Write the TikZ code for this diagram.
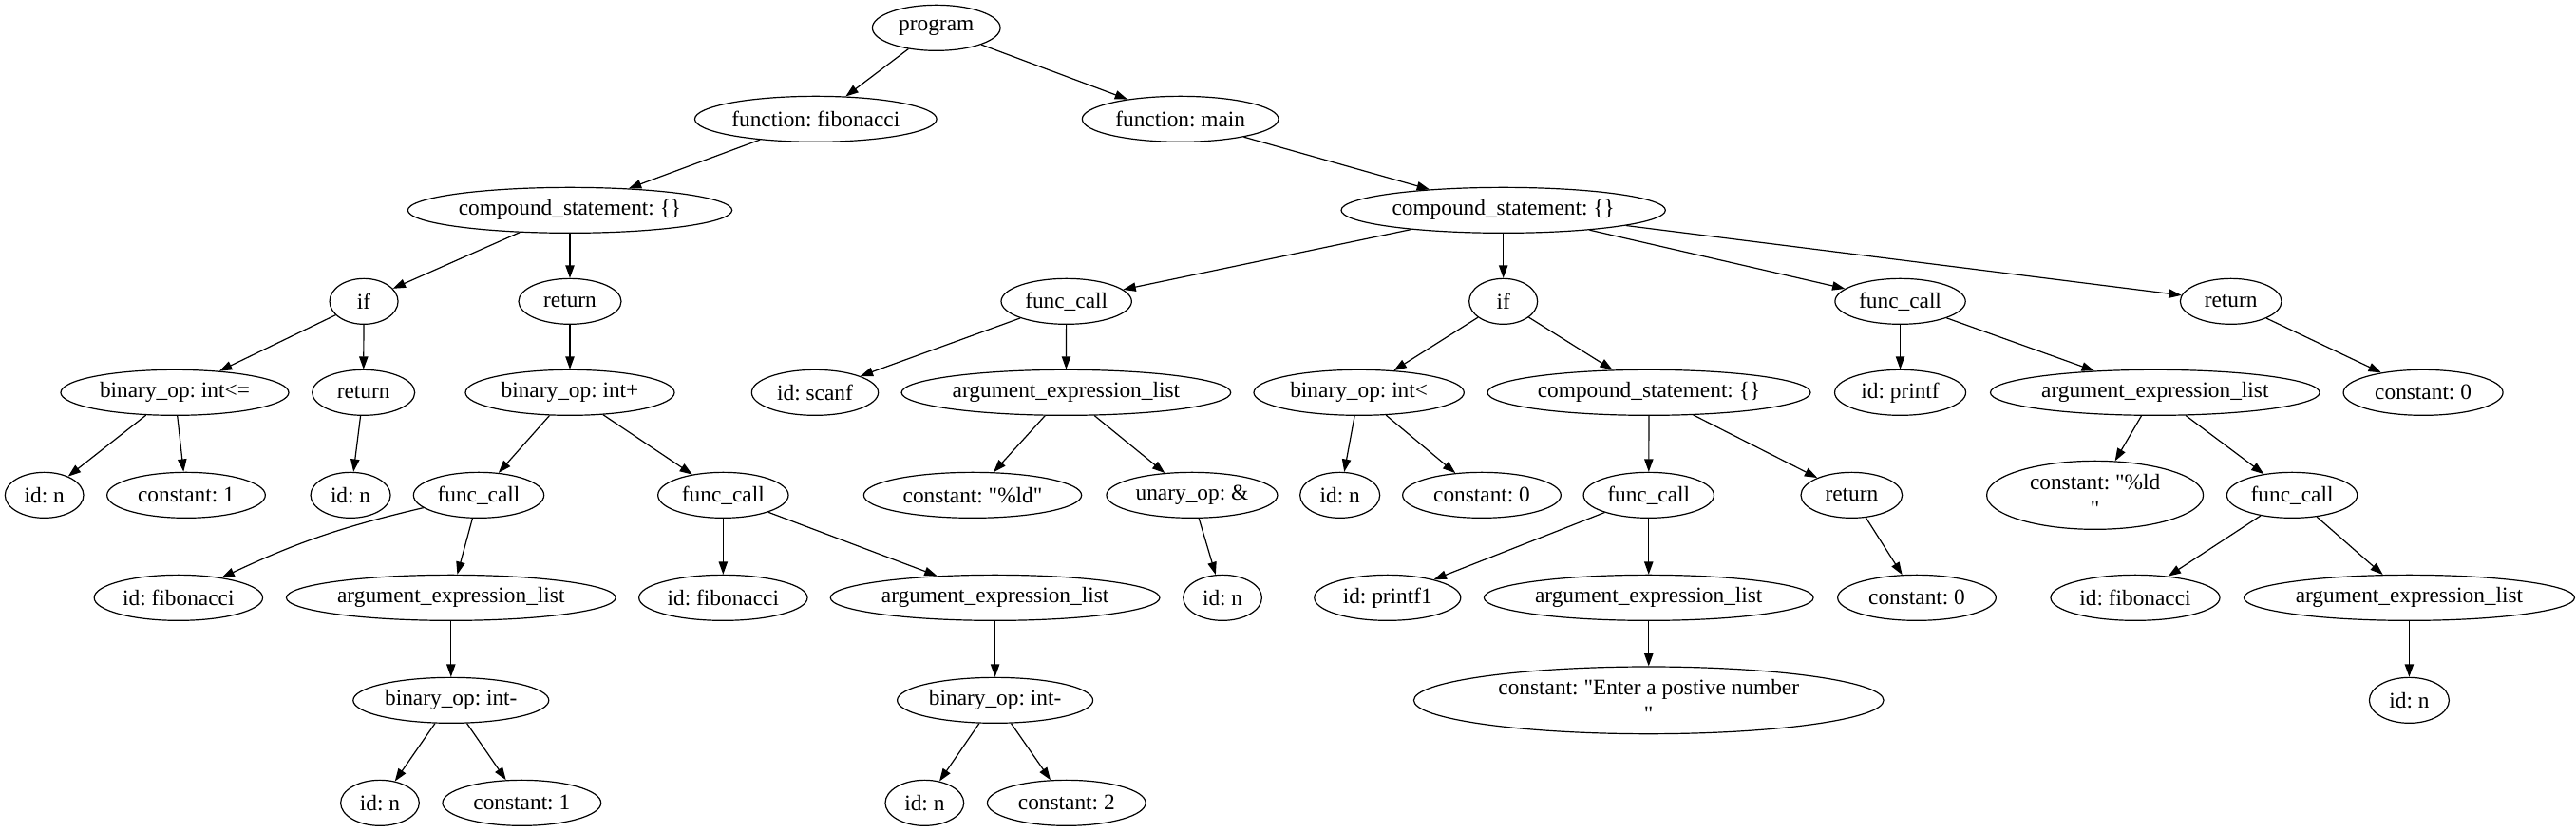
\documentclass[tikz,border=0pt]{standalone}
\usepackage{fontspec}
\newfontfamily\gvfont{Liberation Serif}
\usetikzlibrary{arrows.meta,shapes.geometric}
\frenchspacing
\begin{document}
\begin{tikzpicture}[x=1pt,y=-1pt,
  tn/.style={draw, ellipse, line width=0.9pt, minimum height=36pt, inner sep=0pt,
     align=center, font=\gvfont\fontsize{17.5}{20.5}\selectfont\frenchspacing},
  arr/.style={-{Triangle[length=10pt,width=7pt]}, line width=0.9pt}]
\useasboundingbox (0,0) rectangle (2034,656.25);
% rank 0
\node[tn, minimum width=101pt] (prog) at (739.3,22) {program};
% rank 1
\node[tn, minimum width=191pt] (fnfib) at (644.1,94) {function: fibonacci};
\node[tn, minimum width=155pt] (fnmain) at (932,94) {function: main};
% rank 2
\node[tn, minimum width=256pt] (cs1) at (450,166) {compound\_statement: \{\}};
\node[tn, minimum width=256pt] (cs2) at (1187,166) {compound\_statement: \{\}};
% rank 3
\node[tn, minimum width=54pt] (if1) at (287.3,238) {if};
\node[tn, minimum width=81pt] (ret1) at (450,238) {return};
\node[tn, minimum width=103pt] (fc1) at (842,238) {func\_call};
\node[tn, minimum width=54pt] (if2) at (1187,238) {if};
\node[tn, minimum width=103pt] (fc2) at (1500.4,238) {func\_call};
\node[tn, minimum width=80pt] (ret2) at (1761.5,238) {return};
% rank 4
\node[tn, minimum width=180pt] (bo1) at (138,310) {binary\_op: int<=};
\node[tn, minimum width=81pt] (ret3) at (287,310) {return};
\node[tn, minimum width=165pt] (bo2) at (450,310) {binary\_op: int+};
\node[tn, minimum width=100pt] (ids) at (643.5,310) {id: scanf};
\node[tn, minimum width=260pt] (ael1) at (841.8,310) {argument\_expression\_list};
\node[tn, minimum width=166pt] (bo3) at (1073,310) {binary\_op: int<};
\node[tn, minimum width=255pt] (cs3) at (1302,310) {compound\_statement: \{\}};
\node[tn, minimum width=103.5pt] (idp) at (1500.4,310) {id: printf};
\node[tn, minimum width=260pt] (ael2) at (1701.6,310) {argument\_expression\_list};
\node[tn, minimum width=126pt] (c0a) at (1913.3,310) {constant: 0};
% rank 5
\node[tn, minimum width=62pt] (idn1) at (35,391) {id: n};
\node[tn, minimum width=125pt] (c1a) at (147,391) {constant: 1};
\node[tn, minimum width=63pt] (idn2) at (276.8,391) {id: n};
\node[tn, minimum width=103pt] (fc3) at (378,391) {func\_call};
\node[tn, minimum width=103pt] (fc4) at (571,391) {func\_call};
\node[tn, minimum width=172pt] (cld) at (768,391) {constant: "\%ld"};
\node[tn, minimum width=135pt] (uo) at (941.2,391) {unary\_op: \&};
\node[tn, minimum width=63pt] (idn3) at (1058,391) {id: n};
\node[tn, minimum width=125pt] (c0b) at (1170,391) {constant: 0};
\node[tn, minimum width=103pt] (fc5) at (1301.8,391) {func\_call};
\node[tn, minimum width=80pt] (ret4) at (1462,391) {return};
\node[tn, minimum width=171pt, minimum height=54pt] (cld2) at (1654.2,391) {constant: "\%ld\\"};
\node[tn, minimum width=103pt] (fc6) at (1809.8,391) {func\_call};
% rank 6
\node[tn, minimum width=133pt] (idf1) at (140.9,472) {id: fibonacci};
\node[tn, minimum width=260pt] (ael3) at (356.1,472) {argument\_expression\_list};
\node[tn, minimum width=133pt] (idf2) at (571,472) {id: fibonacci};
\node[tn, minimum width=260pt] (ael4) at (785.7,472) {argument\_expression\_list};
\node[tn, minimum width=62pt] (idn4) at (965.3,472) {id: n};
\node[tn, minimum width=115.5pt] (idpf) at (1095.6,472) {id: printf1};
\node[tn, minimum width=260pt] (ael5) at (1301.8,472) {argument\_expression\_list};
\node[tn, minimum width=125pt] (c0c) at (1513.5,472) {constant: 0};
\node[tn, minimum width=133.5pt] (idf3) at (1686,472) {id: fibonacci};
\node[tn, minimum width=261pt] (ael6) at (1902.3,472) {argument\_expression\_list};
% rank 7
\node[tn, minimum width=154.5pt] (bo4) at (356.1,553) {binary\_op: int-};
\node[tn, minimum width=154.5pt] (bo5) at (785.7,553) {binary\_op: int-};
\node[tn, minimum width=371pt, minimum height=53pt] (cen) at (1301.8,553) {constant: "Enter a postive number\\"};
\node[tn, minimum width=63pt] (idn5) at (1902.3,553) {id: n};
% rank 8
\node[tn, minimum width=62pt] (idn6) at (300,634) {id: n};
\node[tn, minimum width=125pt] (c1b) at (412,634) {constant: 1};
\node[tn, minimum width=62pt] (idn7) at (730,634) {id: n};
\node[tn, minimum width=125pt] (c2) at (842.1,634) {constant: 2};
% edges
\draw[arr] (prog) -- (fnfib);
\draw[arr] (prog) -- (fnmain);
\draw[arr] (fnfib) -- (cs1);
\draw[arr] (cs1) -- (if1);
\draw[arr] (cs1) -- (ret1);
\draw[arr] (if1) -- (bo1);
\draw[arr] (if1) -- (ret3);
\draw[arr] (bo1) -- (idn1);
\draw[arr] (bo1) -- (c1a);
\draw[arr] (ret3) -- (idn2);
\draw[arr] (ret1) -- (bo2);
\draw[arr] (bo2) -- (fc3);
\draw[arr] (bo2) -- (fc4);
\draw[arr] (fc3) to[bend right=6] (idf1);
\draw[arr] (fc3) -- (ael3);
\draw[arr] (ael3) -- (bo4);
\draw[arr] (bo4) -- (idn6);
\draw[arr] (bo4) -- (c1b);
\draw[arr] (fc4) -- (idf2);
\draw[arr] (fc4) -- (ael4);
\draw[arr] (ael4) -- (bo5);
\draw[arr] (bo5) -- (idn7);
\draw[arr] (bo5) -- (c2);
\draw[arr] (fnmain) -- (cs2);
\draw[arr] (cs2) -- (fc1);
\draw[arr] (cs2) -- (if2);
\draw[arr] (cs2) -- (fc2);
\draw[arr] (cs2) -- (ret2);
\draw[arr] (fc1) -- (ids);
\draw[arr] (fc1) -- (ael1);
\draw[arr] (ael1) -- (cld);
\draw[arr] (ael1) -- (uo);
\draw[arr] (uo) -- (idn4);
\draw[arr] (if2) -- (bo3);
\draw[arr] (if2) -- (cs3);
\draw[arr] (bo3) -- (idn3);
\draw[arr] (bo3) -- (c0b);
\draw[arr] (cs3) -- (fc5);
\draw[arr] (cs3) -- (ret4);
\draw[arr] (fc5) -- (idpf);
\draw[arr] (fc5) -- (ael5);
\draw[arr] (ael5) -- (cen);
\draw[arr] (ret4) -- (c0c);
\draw[arr] (fc2) -- (idp);
\draw[arr] (fc2) -- (ael2);
\draw[arr] (ael2) -- (cld2);
\draw[arr] (ael2) -- (fc6);
\draw[arr] (fc6) -- (idf3);
\draw[arr] (fc6) -- (ael6);
\draw[arr] (ael6) -- (idn5);
\draw[arr] (ret2) -- (c0a);
\end{tikzpicture}
\end{document}
